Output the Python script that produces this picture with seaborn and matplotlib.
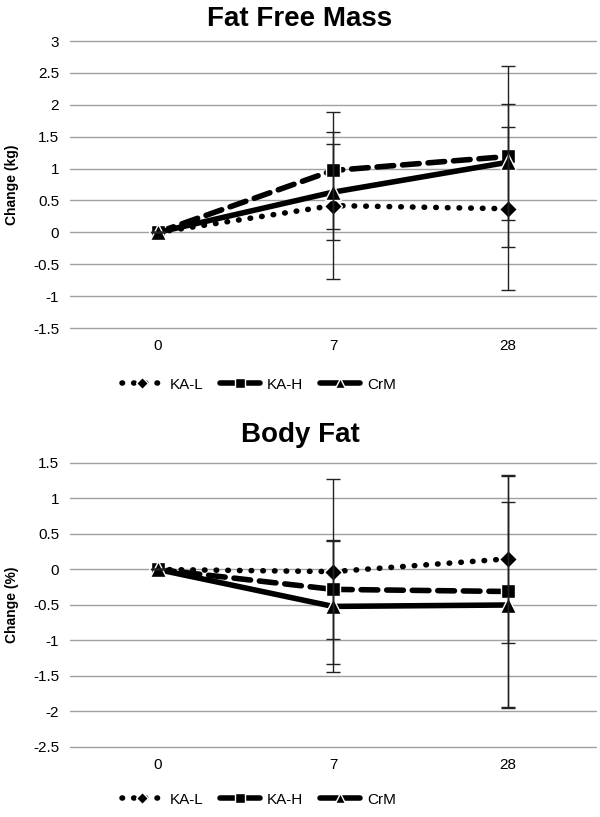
import pandas as pd
import seaborn as sns
import matplotlib.pyplot as plt
import numpy as np

# Data
days = ['0', '7', '28']
groups = ['KA-L', 'KA-H', 'CrM']

ffm_kal = [0.0, 0.42, 0.37]
ffm_kah = [0.0, 0.97, 1.19]
ffm_crm = [0.0, 0.63, 1.10]
ffm_err_kal = [0.0, 1.15, 1.28]
ffm_err_kah = [0.0, 0.91, 1.42]
ffm_err_crm = [0.0, 0.75, 0.91]

bf_kal = [0.0, -0.03, 0.15]
bf_kah = [0.0, -0.28, -0.31]
bf_crm = [0.0, -0.52, -0.50]
bf_err_kal = [0.0, 1.30, 1.18]
bf_err_kah = [0.0, 0.70, 1.63]
bf_err_crm = [0.0, 0.92, 1.45]

sns.set_theme(style='white')
plt.rcParams['font.family'] = ['Liberation Sans', 'DejaVu Sans']
plt.rcParams['text.color'] = 'black'
plt.rcParams['xtick.color'] = 'black'
plt.rcParams['ytick.color'] = 'black'
plt.rcParams['axes.labelcolor'] = 'black'

styles = {
    'KA-L': dict(marker='D', dashes=(0.1, 2.0), ms=9),
    'KA-H': dict(marker='s', dashes=(3.0, 1.6), ms=10),
    'CrM': dict(marker='^', dashes=None, ms=11),
}


def make_df(vals, errs):
    rows = []
    for g, v, e in zip(groups, vals, errs):
        for i, d in enumerate(days):
            rows.append({'pos': i, 'day': d, 'group': g, 'value': v[i], 'err': e[i]})
    return pd.DataFrame(rows)


def draw_panel(ax, df, ylim, step, ylabel):
    for g in groups:
        sub = df[df['group'] == g]
        st = styles[g]
        ax.errorbar(sub['pos'], sub['value'], yerr=sub['err'], fmt='none',
                    ecolor='#222222', elinewidth=1.0, capsize=5, capthick=1.0, zorder=4)
        sns.lineplot(data=sub, x='pos', y='value', ax=ax, color='black',
                     linewidth=4, marker=st['marker'], markersize=st['ms'],
                     markeredgecolor='white', markeredgewidth=1.0,
                     label=g, zorder=3, legend=False)
        line = ax.lines[-1]
        if st['dashes'] is not None:
            line.set_dashes(st['dashes'])
            line.set_dash_capstyle('round')
    ticks = np.arange(ylim[0], ylim[1] + 0.01, step)
    ax.set_xlim(-0.5, 2.5)
    ax.set_ylim(*ylim)
    ax.set_yticks(ticks)
    ax.set_yticklabels([f'{t:g}' for t in ticks])
    ax.set_xticks(range(len(days)))
    ax.set_xticklabels(days)
    ax.grid(axis='y', color='#a0a0a0', linewidth=1.0)
    ax.set_axisbelow(True)
    for gl in ax.get_ygridlines():
        gl.set_clip_on(False)
    for s in ax.spines.values():
        s.set_visible(False)
    ax.tick_params(axis='both', labelsize=11, length=0, pad=8)
    ax.set_xlabel('')
    ax.set_ylabel(ylabel, fontsize=10, fontweight='bold', labelpad=10)


fig = plt.figure(figsize=(6, 8.17), dpi=100)
ax1 = fig.add_axes([0.117, 0.5985, 0.876, 0.3513])
ax2 = fig.add_axes([0.117, 0.0857, 0.876, 0.3476])

draw_panel(ax1, make_df([ffm_kal, ffm_kah, ffm_crm], [ffm_err_kal, ffm_err_kah, ffm_err_crm]),
           (-1.5, 3), 0.5, 'Change (kg)')
draw_panel(ax2, make_df([bf_kal, bf_kah, bf_crm], [bf_err_kal, bf_err_kah, bf_err_crm]),
           (-2.5, 1.5), 0.5, 'Change (%)')

fig.text(0.5, 0.977, 'Fat Free Mass', ha='center', va='center', fontsize=20, fontweight='bold')
fig.text(0.5, 0.467, 'Body Fat', ha='center', va='center', fontsize=20, fontweight='bold')

for ax, y in [(ax1, 0.529), (ax2, 0.021)]:
    h, l = ax.get_legend_handles_labels()
    fig.legend(h, l, loc='center', bbox_to_anchor=(0.432, y), ncol=3, frameon=False,
               fontsize=11, handlelength=2.6, columnspacing=1.1, handletextpad=0.5,
               markerscale=0.7)

fig.savefig('out.png', dpi=100)
